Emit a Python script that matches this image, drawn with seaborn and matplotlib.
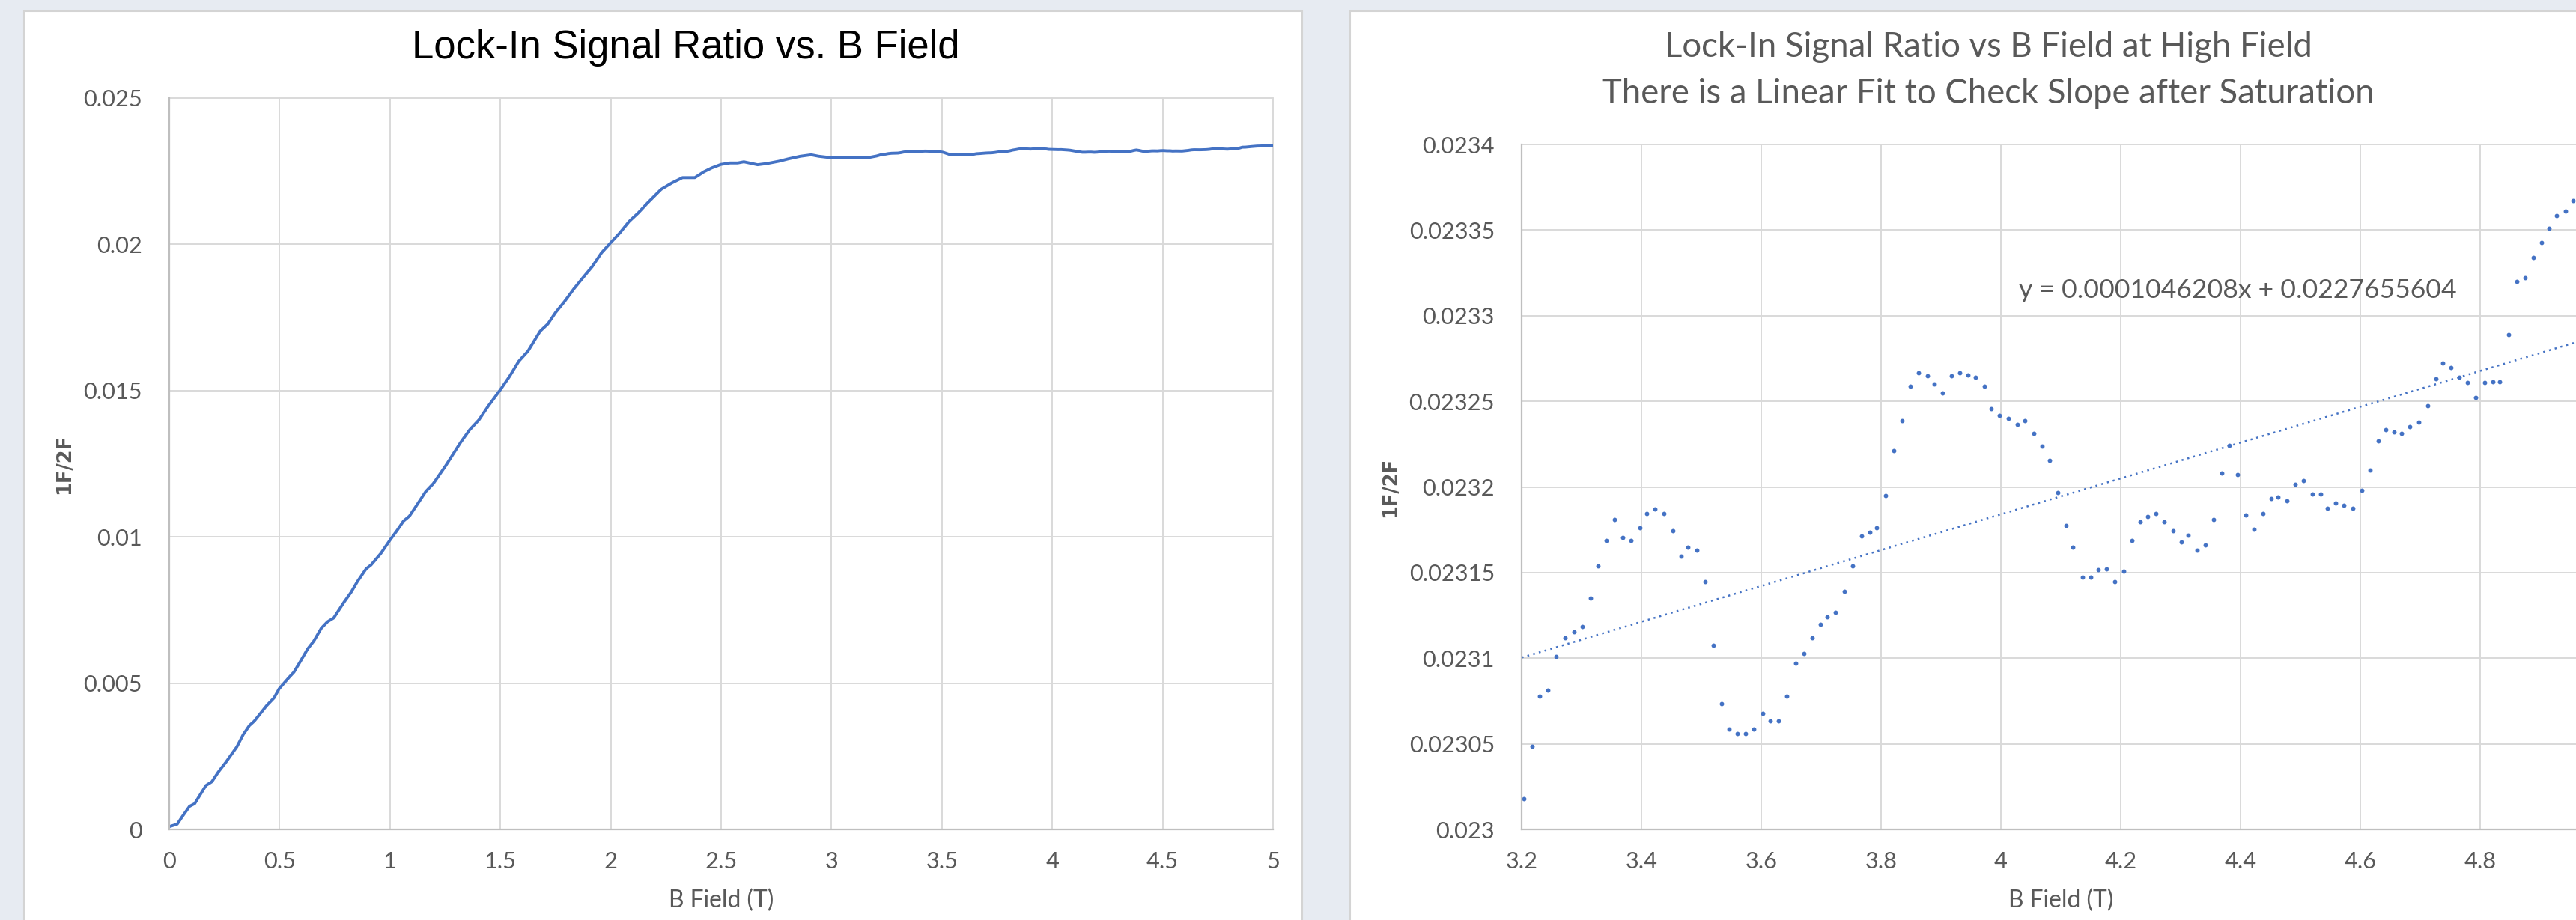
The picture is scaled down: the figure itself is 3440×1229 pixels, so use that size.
import matplotlib
matplotlib.use("Agg")
import matplotlib.pyplot as plt
from matplotlib.patches import Rectangle
from matplotlib.ticker import FuncFormatter, MultipleLocator
import numpy as np
import seaborn as sns


# left chart: sweep from 0 up to 3.2 T
b_sweep = [0.002, 0.036, 0.059, 0.092, 0.115, 0.166, 0.193, 0.222, 0.256, 0.306,
           0.335, 0.363, 0.385, 0.441, 0.475, 0.498, 0.543, 0.565, 0.593, 0.627,
           0.655, 0.689, 0.717, 0.745, 0.791, 0.824, 0.852, 0.892, 0.914, 0.959,
           0.999, 1.033, 1.061, 1.088, 1.128, 1.162, 1.196, 1.252, 1.320, 1.361,
           1.403, 1.445, 1.500, 1.542, 1.583, 1.625, 1.680, 1.715, 1.750, 1.791,
           1.833, 1.874, 1.916, 1.958, 1.999, 2.041, 2.083, 2.124, 2.166, 2.228,
           2.277, 2.325, 2.381, 2.422, 2.457, 2.499, 2.540, 2.575, 2.603, 2.665,
           2.707, 2.762, 2.804, 2.859, 2.908, 2.942, 2.998, 3.067, 3.164]
ratio_sweep = [0.0001, 0.00018, 0.00044, 0.00079, 0.00088, 0.0015, 0.00163, 0.00196, 0.00229, 0.00282,
               0.00324, 0.00355, 0.0037, 0.00423, 0.0045, 0.00481, 0.0052, 0.00538, 0.00573, 0.00617,
               0.00644, 0.00688, 0.0071, 0.00723, 0.00776, 0.00811, 0.00847, 0.00891, 0.00904, 0.00944,
               0.00988, 0.01023, 0.01054, 0.01071, 0.01116, 0.01155, 0.01182, 0.01243, 0.01323, 0.01366,
               0.0140, 0.01447, 0.01503, 0.01549, 0.0160, 0.01635, 0.01703, 0.01728, 0.01767, 0.01805,
               0.01848, 0.01886, 0.01924, 0.01971, 0.02005, 0.02039, 0.02078, 0.02107, 0.02141, 0.02188,
               0.0221, 0.02228, 0.02228, 0.02248, 0.02261, 0.02273, 0.02278, 0.02278, 0.02282, 0.02272,
               0.02276, 0.02284, 0.02292, 0.02301, 0.02306, 0.02301, 0.02296, 0.02296, 0.02296]

# high field points (right chart), also the tail of the left line
b_high = [3.204, 3.218, 3.230, 3.244, 3.258, 3.272, 3.287, 3.301, 3.315, 3.327,
          3.341, 3.355, 3.369, 3.383, 3.397, 3.409, 3.423, 3.437, 3.452, 3.466,
          3.478, 3.492, 3.506, 3.520, 3.534, 3.546, 3.560, 3.574, 3.588, 3.603,
          3.615, 3.629, 3.643, 3.657, 3.671, 3.685, 3.699, 3.710, 3.724, 3.739,
          3.753, 3.767, 3.781, 3.793, 3.807, 3.821, 3.835, 3.849, 3.863, 3.877,
          3.889, 3.902, 3.917, 3.931, 3.945, 3.958, 3.973, 3.984, 3.998, 4.012,
          4.027, 4.040, 4.055, 4.069, 4.081, 4.095, 4.109, 4.120, 4.136, 4.150,
          4.162, 4.176, 4.190, 4.205, 4.219, 4.232, 4.245, 4.259, 4.273, 4.287,
          4.301, 4.312, 4.327, 4.341, 4.355, 4.369, 4.381, 4.395, 4.409, 4.423,
          4.437, 4.451, 4.462, 4.477, 4.491, 4.505, 4.520, 4.534, 4.545, 4.559,
          4.573, 4.588, 4.602, 4.616, 4.630, 4.642, 4.656, 4.669, 4.683, 4.697,
          4.712, 4.726, 4.737, 4.751, 4.765, 4.779, 4.793, 4.807, 4.821, 4.833,
          4.847, 4.861, 4.875, 4.889, 4.903, 4.915, 4.928, 4.942, 4.955, 5.000]
ratio_high = [0.023018, 0.0230485, 0.023078, 0.0230815, 0.0231012, 0.0231119, 0.0231153, 0.0231185, 0.023135, 0.0231539,
              0.0231688, 0.0231811, 0.0231704, 0.0231688, 0.0231761, 0.0231843, 0.0231869, 0.0231843, 0.0231746, 0.0231596,
              0.0231646, 0.023163, 0.0231447, 0.0231077, 0.0230734, 0.0230585, 0.0230561, 0.0230561, 0.0230585, 0.0230676,
              0.0230634, 0.0230634, 0.023078, 0.023097, 0.0231028, 0.0231119, 0.02312, 0.0231242, 0.0231266, 0.0231389,
              0.0231539, 0.0231712, 0.0231735, 0.0231761, 0.023195, 0.0232212, 0.0232385, 0.023259, 0.0232666, 0.0232647,
              0.02326, 0.023255, 0.0232647, 0.0232666, 0.0232655, 0.023264, 0.023259, 0.0232459, 0.0232417, 0.0232401,
              0.0232367, 0.0232385, 0.0232312, 0.0232239, 0.0232155, 0.0231966, 0.0231777, 0.0231646, 0.0231473, 0.0231473,
              0.0231515, 0.0231523, 0.0231447, 0.0231507, 0.0231688, 0.0231796, 0.0231827, 0.0231843, 0.0231796, 0.0231746,
              0.023168, 0.023172, 0.023163, 0.0231662, 0.0231811, 0.0232081, 0.0232241, 0.0232073, 0.0231835, 0.0231754,
              0.0231843, 0.0231934, 0.0231942, 0.0231919, 0.0232016, 0.0232039, 0.0231958, 0.0231958, 0.0231877, 0.0231908,
              0.0231893, 0.0231877, 0.0231982, 0.0232097, 0.023227, 0.0232336, 0.023232, 0.0232312, 0.0232351, 0.0232377,
              0.0232474, 0.0232632, 0.0232723, 0.0232697, 0.023264, 0.0232608, 0.0232524, 0.0232608, 0.0232616, 0.0232616,
              0.0232889, 0.02332, 0.0233224, 0.0233339, 0.0233429, 0.0233512, 0.0233586, 0.0233612, 0.023367, 0.023372]

# linear fit, coefficients as printed on the chart
fit_slope = 0.0001046208
fit_intercept = 0.0227655604
fit_span = [3.2, 5.0]

left_title = "Lock-In Signal Ratio vs. B Field"
right_title = ["Lock-In Signal Ratio vs B Field at High Field",
               "There is a Linear Fit to Check Slope after Saturation"]
x_label = "B Field (T)"
y_label = "1F/2F"
eq_label = "y = 0.0001046208x + 0.0227655604"
right_xticks = [3.2, 3.4, 3.6, 3.8, 4.0, 4.2, 4.4, 4.6, 4.8]   # 5.0 falls off the picture


W, H = 3440, 1229
blue = "#4472C4"
grey_txt = "#595959"
page = "#E7EBF2"

sns.set_theme(style="whitegrid")
plt.rcParams["font.family"] = ["Lato", "DejaVu Sans"]

fig = plt.figure(figsize=(W / 100, H / 100), dpi=100, facecolor=page)

# white chart panels (behind the axes)
fig.patches.append(Rectangle((32 / W, -0.02), 1707 / W, 1.02 - 15 / H, transform=fig.transFigure,
                             facecolor="white", edgecolor="#D4D4D4", lw=1.5, zorder=-5))
fig.patches.append(Rectangle((1803 / W, -0.02), 0.5, 1.02 - 15 / H, transform=fig.transFigure,
                             facecolor="white", edgecolor="#D4D4D4", lw=1.5, zorder=-5))

axl = fig.add_axes([226 / W, (H - 1108) / H, 1474 / W, 977 / H])
axr = fig.add_axes([2032 / W, (H - 1108) / H, 1440 / W, 915 / H])

# left: full sweep as a line
b_all = np.concatenate([b_sweep, b_high])
r_all = np.concatenate([ratio_sweep, ratio_high])
sns.lineplot(x=b_all, y=r_all, ax=axl, color=blue, lw=2.8, estimator=None)

# right: high field points + dotted linear fit
sns.scatterplot(x=b_high, y=ratio_high, ax=axr, color=blue, s=18, linewidth=0)
fit_x = np.array(fit_span)
sns.lineplot(x=fit_x, y=fit_slope * fit_x + fit_intercept, ax=axr, color=blue,
             lw=1.8, linestyle=(0, (1, 2.2)))

axl.set_xlim(0, 5)
axl.set_ylim(0, 0.025)
axl.xaxis.set_major_locator(MultipleLocator(0.5))
axl.yaxis.set_major_locator(MultipleLocator(0.005))
axr.set_xlim(3.2, 5.0)
axr.set_ylim(0.023, 0.0234)
axr.set_xticks(right_xticks)
axr.yaxis.set_major_locator(MultipleLocator(0.00005))

fmt = FuncFormatter(lambda v, p: "%g" % round(v, 6))

# size tick text so "0.02335" is ~114 px wide
fig.canvas.draw()
rend = fig.canvas.get_renderer()
probe = fig.text(0, 0, "0.02335", fontsize=20)
tick_fs = 20 * 114 / probe.get_window_extent(rend).width
probe.remove()

for ax in (axl, axr):
    ax.set_facecolor("white")
    ax.xaxis.set_major_formatter(fmt)
    ax.yaxis.set_major_formatter(fmt)
    ax.grid(True, color="#D9D9D9", lw=1.4)
    ax.tick_params(length=0, labelsize=tick_fs, labelcolor=grey_txt)
    ax.tick_params(axis="y", pad=26)
    ax.tick_params(axis="x", pad=21)
    for s in ("top", "right"):
        ax.spines[s].set_visible(False)
    for s in ("left", "bottom"):
        ax.spines[s].set_color("#BFBFBF")
        ax.spines[s].set_linewidth(1.6)
    for gl in ax.get_xgridlines() + ax.get_ygridlines():
        gl.set_clip_on(False)
    ax.set_xlabel(x_label, color=grey_txt, va="center")
    ax.set_ylabel(y_label, color=grey_txt, fontweight="bold",
                  family=["DejaVu Sans"], va="center", ha="center")

axl.xaxis.set_label_coords(0.5, (1108 - 1203) / 977)
axr.xaxis.set_label_coords(0.5, (1108 - 1203) / 915)
axl.yaxis.set_label_coords((86 - 226) / 1474, 0.5)
axr.yaxis.set_label_coords((1857 - 2032) / 1440, 0.5)

t_left = fig.text(916 / W, 1 - 64 / H, left_title, ha="center", va="center", color="black",
                  family=["Liberation Sans Narrow", "Liberation Sans", "DejaVu Sans"], fontsize=30)
t_r1 = fig.text(2655 / W, 1 - 63 / H, right_title[0], ha="center", va="center",
                color=grey_txt, fontsize=28)
t_r2 = fig.text(2655 / W, 1 - 125 / H, right_title[1], ha="center", va="center",
                color=grey_txt, fontsize=28)
t_eq = axr.text(4.395, 0.0233147, eq_label, ha="center", va="center", color=grey_txt, fontsize=20)

fig.canvas.draw()


def fit_width(txt, target, use_height=False):
    bb = txt.get_window_extent(rend)
    cur = bb.height if use_height else bb.width
    txt.set_fontsize(txt.get_fontsize() * target / cur)


fit_width(t_left, 730)
fit_width(t_r2, 1032)
t_r1.set_fontsize(t_r2.get_fontsize())
fit_width(t_eq, 582)
for ax in (axl, axr):
    fit_width(ax.xaxis.label, 140)
    fit_width(ax.yaxis.label, 80, use_height=True)

fig.savefig("out.png", dpi=100, facecolor=page)
